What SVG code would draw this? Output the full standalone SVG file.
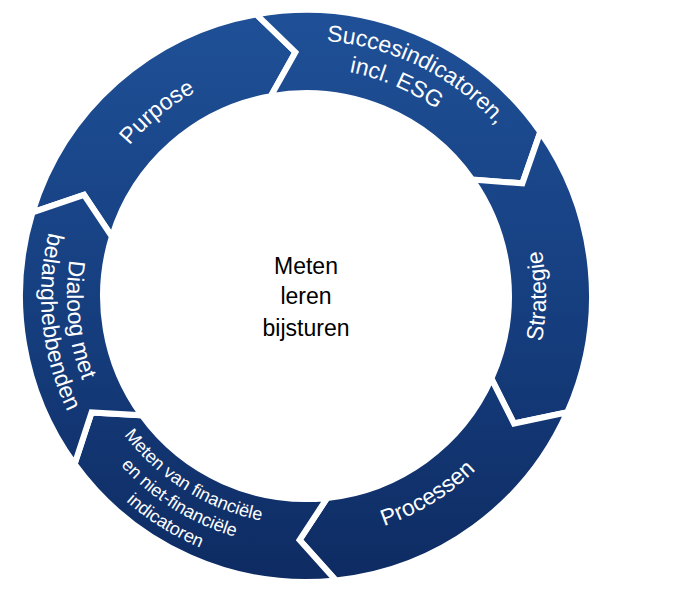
<svg xmlns="http://www.w3.org/2000/svg" width="684" height="595" viewBox="0 0 684 595">
<defs>
<linearGradient id="g" gradientUnits="userSpaceOnUse" x1="0" y1="10" x2="0" y2="585">
<stop offset="0" stop-color="#1f5097"/><stop offset="0.5" stop-color="#163f80"/><stop offset="1" stop-color="#0e2b62"/>
</linearGradient>
<path id="pPurpose" d="M125.7,442 A232 232 0 0 1 160,115.7 A232 232 0 0 1 486.3,150"/>
<path id="pS1" d="M77.9,182.3 A256 256 0 0 1 418.2,65.9 A256 256 0 0 1 536.1,408.2"/>
<path id="pS2" d="M96.1,206.9 A228 228 0 0 1 395.1,86.1 A228 228 0 0 1 515.9,385.1"/>
<path id="pStrat" d="M306,536 A240 240 0 0 0 546,296 A240 240 0 0 0 306,56"/>
<path id="pProc" d="M98.8,423 A243 243 0 0 0 433,503.2 A243 243 0 0 0 513.2,169"/>
<path id="pM1" d="M111.8,174.7 A229 229 0 0 0 184.7,490.2 A229 229 0 0 0 500.2,417.4"/>
<path id="pM2" d="M93.1,163 A251 251 0 0 0 173,508.9 A251 251 0 0 0 518.9,429"/>
<path id="pM3" d="M74.5,151.3 A273 273 0 0 0 161.3,527.5 A273 273 0 0 0 537.5,440.7"/>
<path id="pD1" d="M281,58.3 A239 239 0 0 0 68.3,321 A239 239 0 0 0 331,533.7"/>
<path id="pD2" d="M278.3,32.5 A265 265 0 0 0 42.5,323.7 A265 265 0 0 0 333.7,559.5"/>
</defs>
<style>
.seg{fill:url(#g);stroke:#fff;stroke-width:6;stroke-linejoin:miter}
.lbl{font-family:"Liberation Sans",Arial,sans-serif;fill:#fff;font-size:23px}
.sm{font-size:18px}
.ctr{font-family:"Liberation Sans",Arial,sans-serif;fill:#000;font-size:23px;text-anchor:middle}
</style>
<rect width="684" height="595" fill="#fff"/>
<g id="purpose"><path class="seg" d="M32.5,212.4 A286 286 0 0 1 256.3,14.3 L295.4,52.2 L270.8,96.1 A203 203 0 0 0 111.9,236.6 L84,194.8 Z"/>
<text class="lbl"><textPath href="#pPurpose" startOffset="50%" text-anchor="middle">Purpose</textPath></text></g>
<g id="succes"><path class="seg" d="M256.3,14.3 A286 286 0 0 1 540.3,132 L522.4,183.3 L472.3,179.6 A203 203 0 0 0 270.8,96.1 L295.4,52.2 Z"/>
<text class="lbl"><textPath href="#pS1" startOffset="50%" text-anchor="middle">Succesindicatoren,</textPath></text>
<text class="lbl"><textPath href="#pS2" startOffset="50%" text-anchor="middle">incl. ESG</textPath></text></g>
<g id="strategie"><path class="seg" d="M540.3,132 A286 286 0 0 1 567.3,412.3 L514,423.5 L491.4,378.6 A203 203 0 0 0 472.3,179.6 L522.4,183.3 Z"/>
<text class="lbl"><textPath href="#pStrat" startOffset="50%" text-anchor="middle">Strategie</textPath></text></g>
<g id="processen"><path class="seg" d="M567.3,412.3 A286 286 0 0 1 335.9,580.4 L299.6,539.9 L327.2,497.9 A203 203 0 0 0 491.4,378.6 L514,423.5 Z"/>
<text class="lbl"><textPath href="#pProc" startOffset="50%" text-anchor="middle">Processen</textPath></text></g>
<g id="meten"><path class="seg" d="M335.9,580.4 A286 286 0 0 1 74.6,464.1 L91.6,412.4 L141.8,415.3 A203 203 0 0 0 327.2,497.9 L299.6,539.9 Z"/>
<text class="lbl sm"><textPath href="#pM1" startOffset="50%" text-anchor="middle">Meten van financiële</textPath></text>
<text class="lbl sm"><textPath href="#pM2" startOffset="50%" text-anchor="middle">en niet-financiële</textPath></text>
<text class="lbl sm"><textPath href="#pM3" startOffset="50%" text-anchor="middle">indicatoren</textPath></text></g>
<g id="dialoog"><path class="seg" d="M74.6,464.1 A286 286 0 0 1 32.5,212.4 L84,194.8 L111.9,236.6 A203 203 0 0 0 141.8,415.3 L91.6,412.4 Z"/>
<text class="lbl"><textPath href="#pD1" startOffset="50%" text-anchor="middle">Dialoog met</textPath></text>
<text class="lbl"><textPath href="#pD2" startOffset="50%" text-anchor="middle">belanghebbenden</textPath></text></g>
<g id="connectors"></g>
<g id="center"><text class="ctr" x="306" y="274">Meten</text><text class="ctr" x="306" y="304">leren</text><text class="ctr" x="306" y="336">bijsturen</text></g>
</svg>
